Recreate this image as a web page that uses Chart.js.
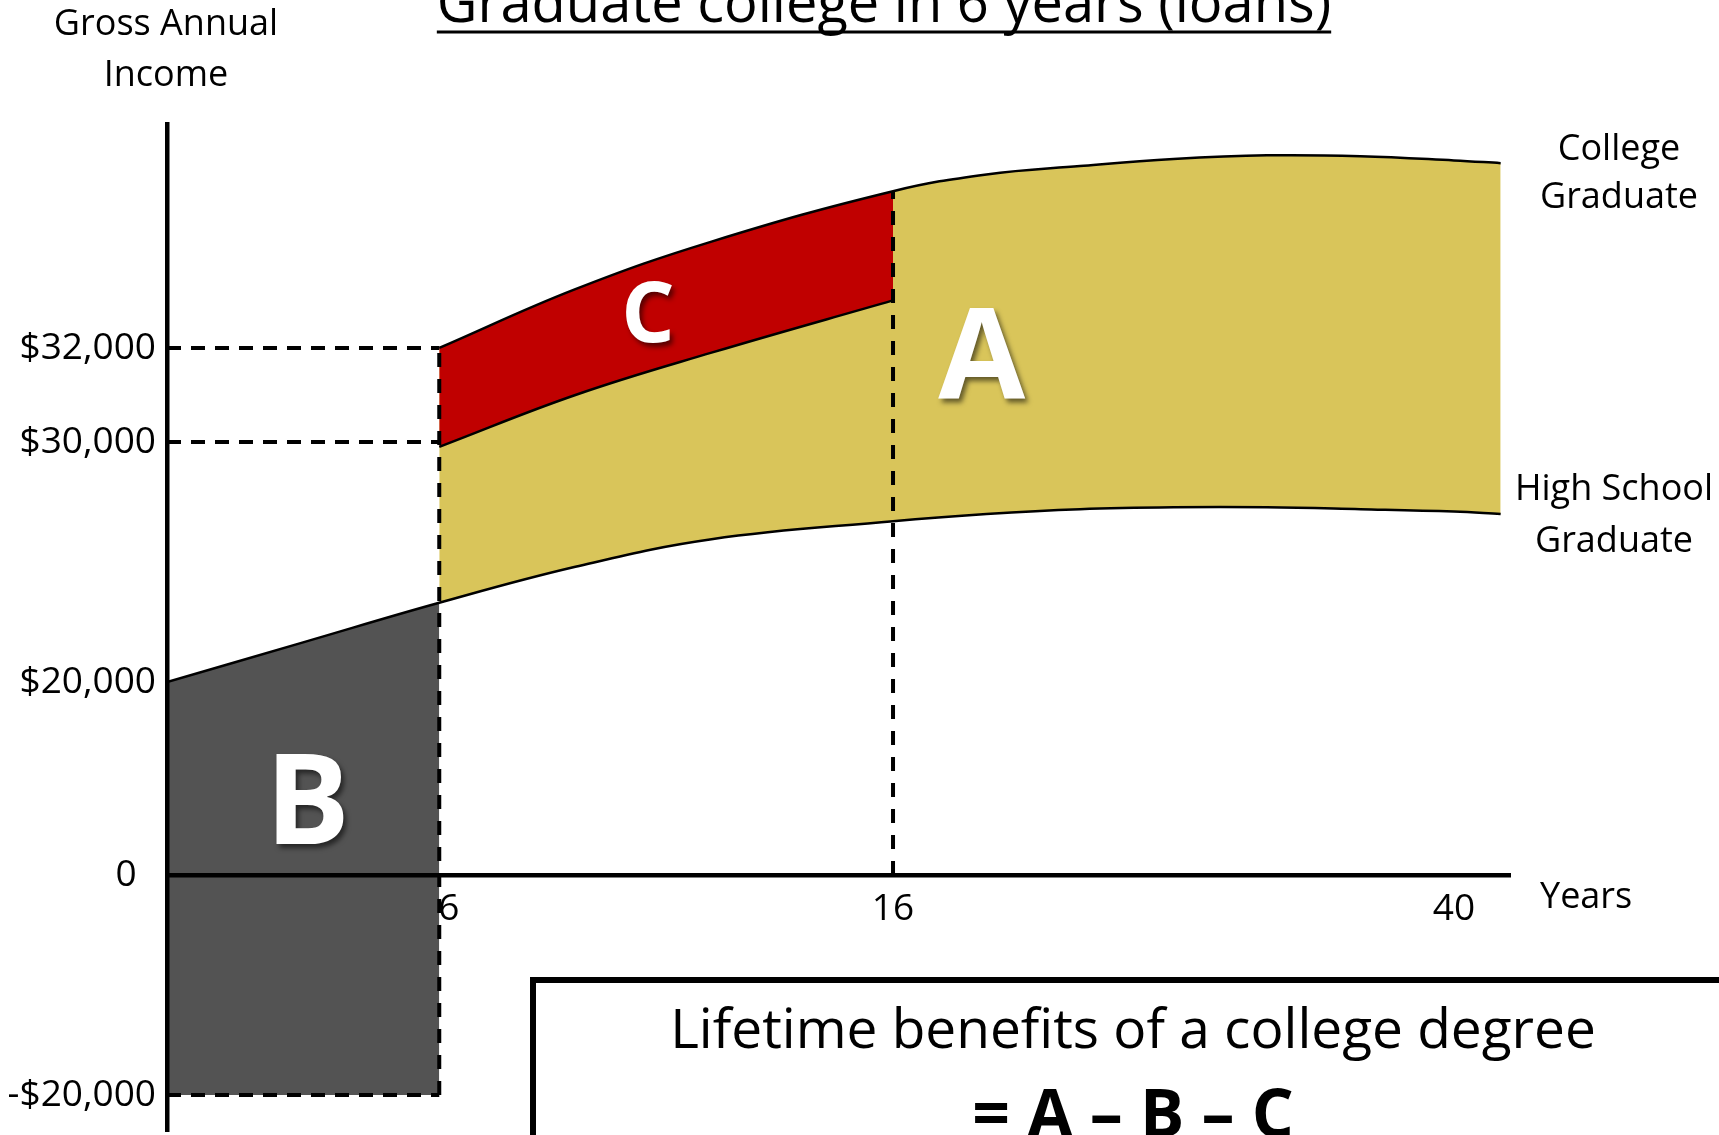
<!DOCTYPE html>
<html>
<head>
<meta charset="utf-8">
<title>Graduate college in 6 years (loans)</title>
<script src="https://cdn.jsdelivr.net/npm/chart.js@4.4.1/dist/chart.umd.min.js"></script>
<style>
  html, body { margin: 0; padding: 0; background: #fff; }
  #wrap { position: relative; width: 1719px; height: 1135px; }
</style>
</head>
<body>
<div id="wrap"><canvas id="chart"></canvas></div>
<script>
// High school graduate, gross annual income by year
const years = [0, 3, 6, 9, 12, 16, 20, 24, 28, 32, 36, 40, 42];
const highSchoolIncome = [20000, 21650, 23300, 24800, 25950, 26700, 27000, 27200, 27280, 27280, 27200, 27100, 27000];

// College graduate, gross and after loan payments
const collegeYears = [6, 9, 12, 16, 20, 24, 28, 32, 36, 40, 42];
const collegeIncome = [32000, 34100, 35800, 37600, 38200, 38500, 38750, 38880, 38850, 38700, 38600];
const loanYears = [6, 9, 12, 16];
const collegeAfterLoans = [29800, 31000, 31900, 33700];

// years in college and the cost of each of them (area B)
const collegeEnd = 6;
const loanEnd = 16;
const schoolCost = -20000;

const xTicks = [6, 16, 40];
const yTicks = [-20000, 0, 20000, 30000, 32000];

const titleText = 'Graduate college in 6 years (loans)';

const areaLabels = [
    { text: 'C', year: 10.6, income: 33300, size: 84 },
    { text: 'A', year: 19.8, income: 31900, size: 126 },
    { text: 'B', year: 3.1, income: 7900, size: 126 }
];

// The original axes are not to scale, so each axis maps its values
// to a share of its length piece by piece.
const axisStops = {
    x: { values: [0, 16, 42.4], units: [0, 0.5406, 1] },
    y: {
        values: [-23270, -20000, 0, 20000, 30000, 32000, 40000],
        units: [0, 0.0357, 0.2542, 0.4459, 0.6842, 0.7776, 1]
    }
};

function interp(v, from, to) {
    let i = 1;
    while (i < from.length - 1 && v > from[i]) i++;
    const t = (v - from[i - 1]) / (from[i] - from[i - 1]);
    return to[i - 1] + t * (to[i] - to[i - 1]);
}

class StretchScale extends Chart.LinearScale {
    static id = 'stretch';

    getPixelForValue(value) {
        if (value === null || value === undefined) return NaN;
        const s = axisStops[this.axis];
        return this.getPixelForDecimal(interp(value, s.values, s.units));
    }

    getValueForPixel(pixel) {
        const s = axisStops[this.axis];
        return interp(this.getDecimalForPixel(pixel), s.units, s.values);
    }
}
Chart.register(StretchScale);

function toPoints(xs, ys) {
    return xs.map((x, i) => ({ x: x, y: ys[i] }));
}

function guide(points, dash) {
    return {
        data: points,
        borderColor: '#000',
        borderWidth: 4,
        borderDash: dash,
        fill: false,
        tension: 0
    };
}

const curve = {
    borderColor: '#000',
    borderWidth: 2.5,
    tension: 0.4
};

const grossAt16 = collegeIncome[collegeYears.indexOf(loanEnd)];

const datasets = [
    // C: lost to loan payments
    Object.assign({ data: toPoints(loanYears, collegeAfterLoans), fill: 1, backgroundColor: '#C00000' }, curve),
    // A: college over high school
    Object.assign({ data: toPoints(collegeYears, collegeIncome), fill: 2, backgroundColor: '#D9C55A' }, curve),
    Object.assign({ data: toPoints(years, highSchoolIncome), fill: false }, curve),
    // B: earnings given up plus cost of school
    {
        data: [{ x: 0, y: schoolCost }, { x: collegeEnd, y: schoolCost }],
        fill: 2,
        backgroundColor: '#535353',
        borderColor: '#000',
        borderWidth: 4,
        borderDash: [14, 10],
        tension: 0
    },
    guide([{ x: 0, y: yTicks[4] }, { x: collegeEnd, y: yTicks[4] }], [14, 10]),
    guide([{ x: 0, y: yTicks[3] }, { x: collegeEnd, y: yTicks[3] }], [14, 10]),
    guide([{ x: collegeEnd, y: schoolCost }, { x: collegeEnd, y: collegeIncome[0] }], [14, 12]),
    guide([{ x: loanEnd, y: 0 }, { x: loanEnd, y: grossAt16 }], [14, 12])
];

const notesPlugin = {
    id: 'notes',
    afterDraw(chart) {
        const ctx = chart.ctx;
        const sx = chart.scales.x;
        const sy = chart.scales.y;
        ctx.save();
        ctx.fillStyle = '#000';
        ctx.textBaseline = 'alphabetic';
        ctx.textAlign = 'center';

        // title runs off the top edge, as in the original
        ctx.font = '56px "Open Sans"';
        ctx.fillText(titleText, 884, 22);
        const tw = ctx.measureText(titleText).width;
        ctx.fillRect(884 - tw / 2, 30.5, tw, 3);

        ctx.font = '36px "Open Sans"';
        ctx.fillText('Gross Annual', 166, 35);
        ctx.fillText('Income', 166, 86);
        ctx.fillText('College', 1619, 160);
        ctx.fillText('Graduate', 1619, 208);
        ctx.fillText('High School', 1614, 500);
        ctx.fillText('Graduate', 1614, 552);
        ctx.textAlign = 'left';
        ctx.fillText('Years', 1540, 908);

        // big area letters
        ctx.textAlign = 'center';
        areaLabels.forEach(l => {
            ctx.save();
            ctx.font = 'bold ' + l.size + 'px "Open Sans"';
            ctx.shadowColor = 'rgba(0, 0, 0, 0.55)';
            ctx.shadowOffsetX = 3;
            ctx.shadowOffsetY = 4;
            ctx.shadowBlur = 5;
            ctx.fillStyle = '#fff';
            ctx.fillText(l.text, sx.getPixelForValue(l.year), sy.getPixelForValue(l.income) + l.size * 0.357);
            ctx.restore();
        });

        // formula box
        ctx.lineWidth = 6;
        ctx.strokeStyle = '#000';
        ctx.strokeRect(533, 980, 1400, 400);
        ctx.font = '55px "Open Sans"';
        ctx.fillText('Lifetime benefits of a college degree', 1133, 1048);
        ctx.font = 'bold 66px "Open Sans"';
        ctx.fillText('= A \u2013 B \u2013 C', 1133, 1137);
        ctx.restore();
    }
};

const tickFont = { family: 'Open Sans', size: 37 };

new Chart(document.getElementById('chart'), {
    type: 'line',
    data: { datasets: datasets },
    options: {
        responsive: true,
        maintainAspectRatio: false,
        animation: false,
        events: [],
        layout: { padding: { top: 124, right: 209, bottom: 4, left: 0 } },
        elements: { point: { radius: 0 } },
        plugins: {
            legend: { display: false },
            tooltip: { enabled: false },
            filler: { drawTime: 'beforeDatasetsDraw' }
        },
        scales: {
            x: {
                type: 'stretch',
                position: { y: 0 },
                min: 0,
                max: 42.4,
                bounds: 'data',
                grid: { display: false, drawTicks: false },
                border: { display: true, color: '#000', width: 4.5, z: 1 },
                ticks: {
                    autoSkip: false,
                    maxRotation: 0,
                    padding: 12,
                    color: '#000',
                    font: tickFont,
                    callback: v => (v === collegeEnd ? '  ' + v : String(v))
                },
                afterBuildTicks: s => { s.ticks = xTicks.map(v => ({ value: v })); },
                afterFit: s => { s.paddingLeft = 0; s.paddingRight = 0; }
            },
            y: {
                type: 'stretch',
                position: 'left',
                min: -23270,
                max: 40000,
                bounds: 'data',
                grid: { display: false, drawTicks: false },
                border: { display: true, color: '#000', width: 4.5, z: 1 },
                ticks: {
                    autoSkip: false,
                    padding: 11,
                    color: '#000',
                    font: tickFont,
                    callback: v => {
                        if (v === 0) return '0  ';
                        return (v < 0 ? '-$' : '$') + Math.abs(v).toLocaleString('en-US');
                    }
                },
                afterBuildTicks: s => { s.ticks = yTicks.map(v => ({ value: v })); },
                afterFit: s => { s.width = 167; s.paddingTop = 0; s.paddingBottom = 0; }
            }
        }
    },
    plugins: [notesPlugin]
});
</script>
</body>
</html>
